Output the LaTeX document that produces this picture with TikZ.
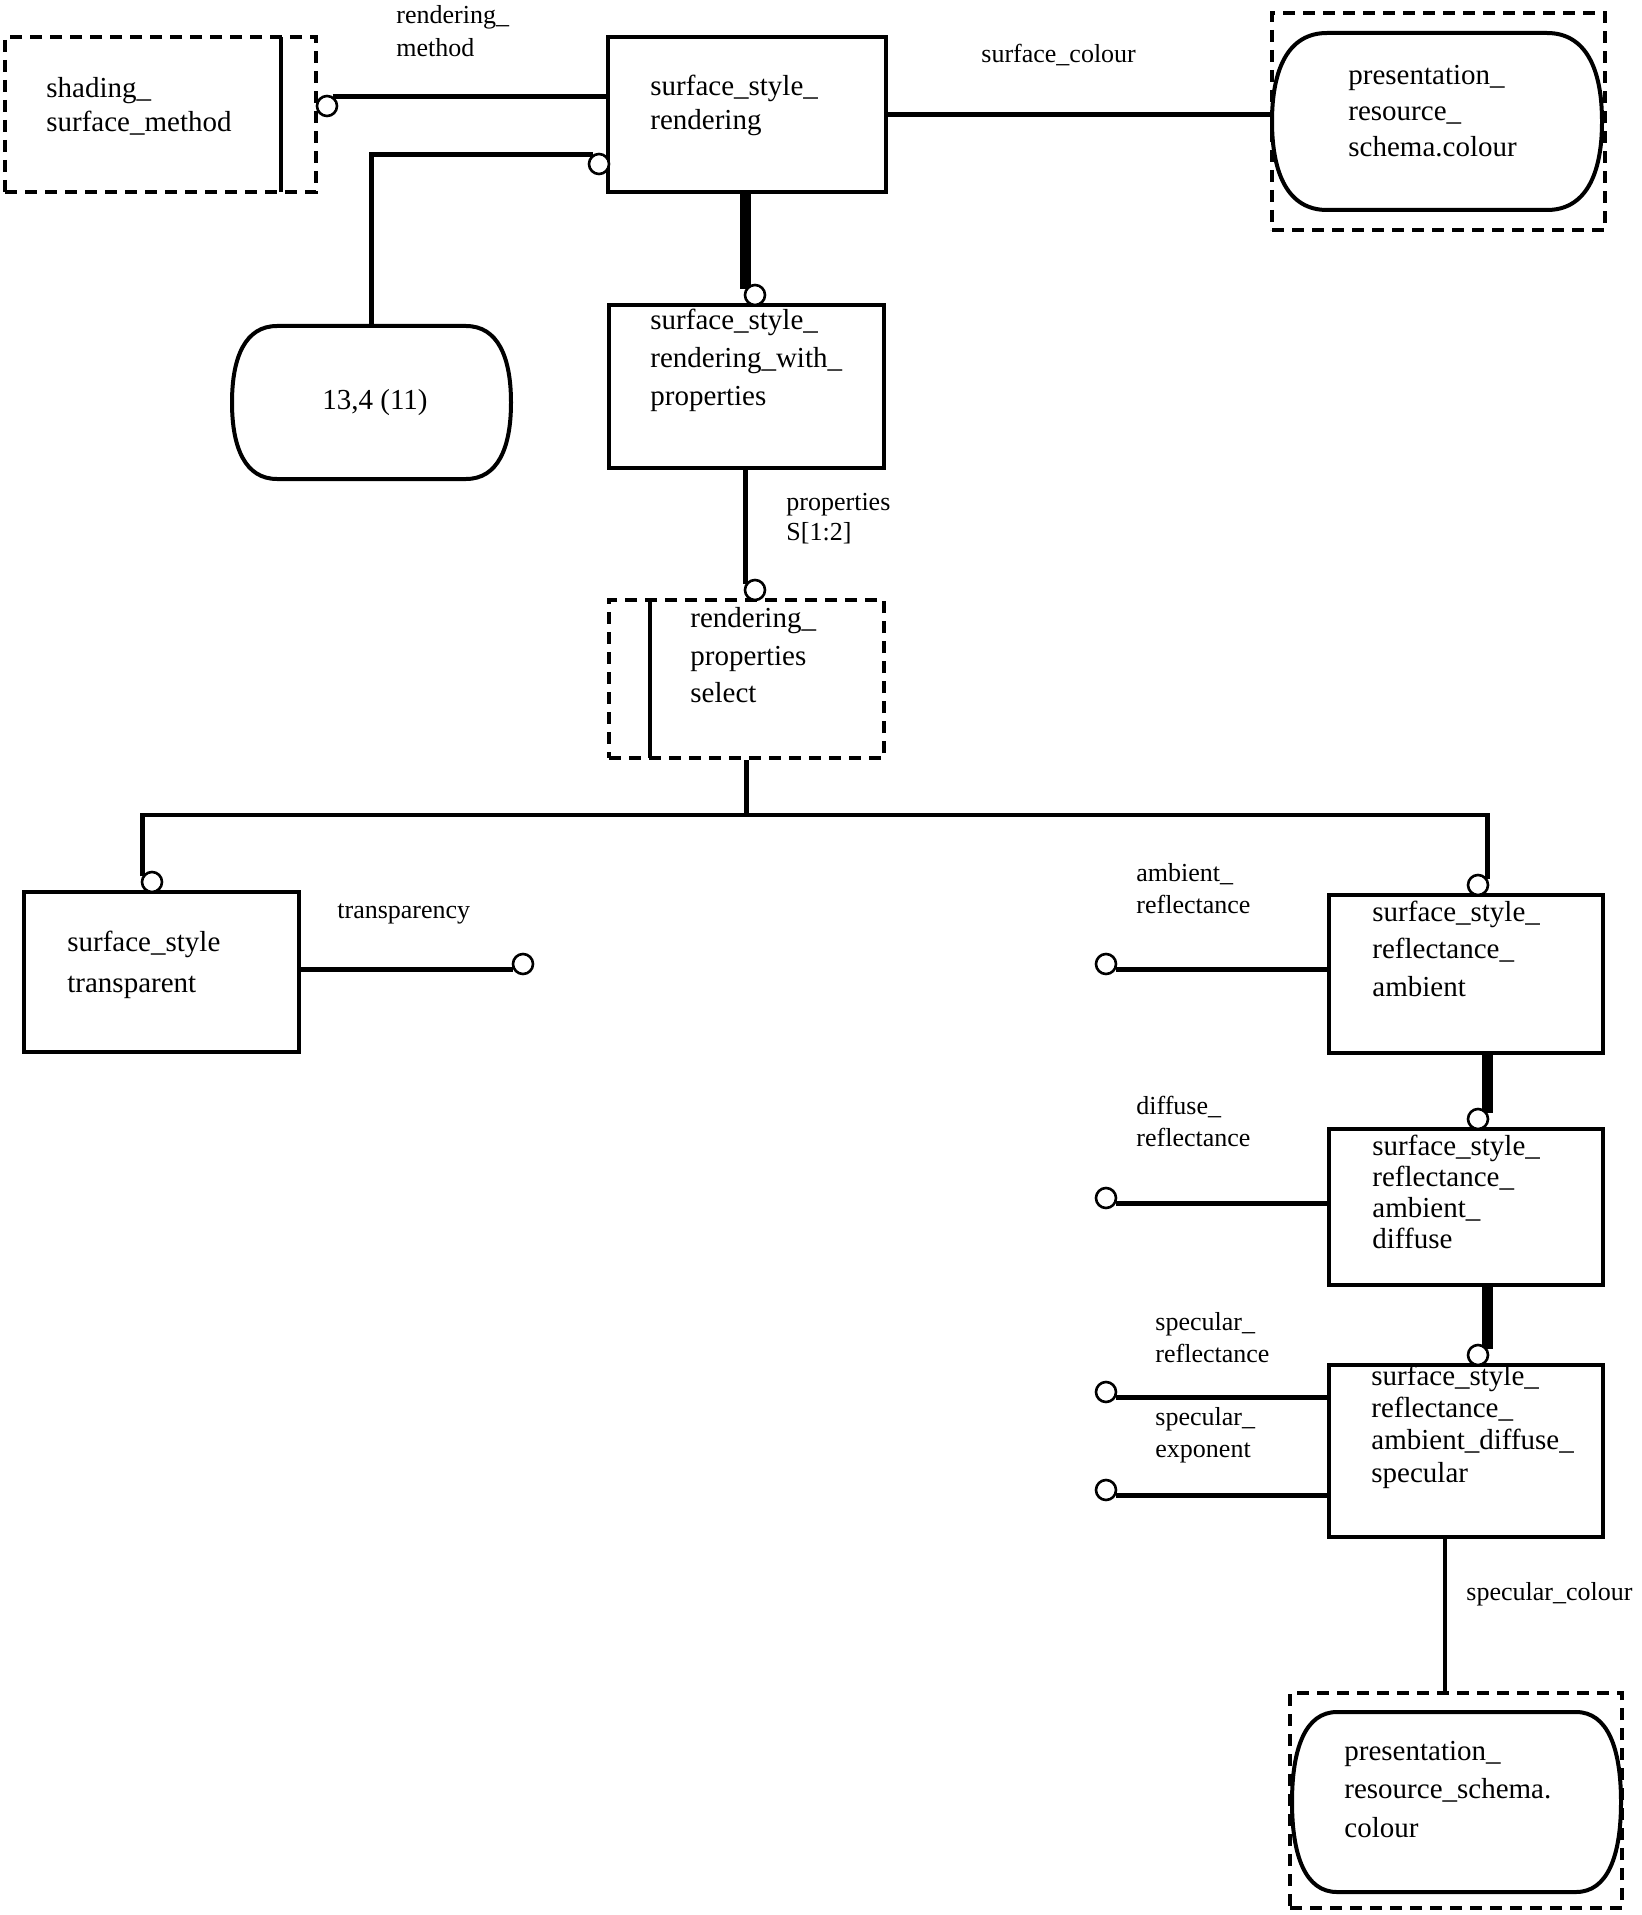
\documentclass[tikz,border=0pt]{standalone}
\usepackage{fontspec}
\setmainfont{Liberation Serif}
\usetikzlibrary{fit,backgrounds}
\newcommand\barrelshape[5]{%
 \draw[shapeline] ({#1+#5},#2) -- ({#3-#5},#2)
  .. controls ({#3-0.3*#5},#2) and (#3,{#2+0.2*(#4-#2)}) .. (#3,{0.5*(#2+#4)})
  .. controls (#3,{#4-0.2*(#4-#2)}) and ({#3-0.3*#5},#4) .. ({#3-#5},#4)
  -- ({#1+#5},#4)
  .. controls ({#1+0.3*#5},#4) and (#1,{#4-0.2*(#4-#2)}) .. (#1,{0.5*(#2+#4)})
  .. controls (#1,{#2+0.2*(#4-#2)}) and ({#1+0.3*#5},#2) .. cycle;}
\begin{document}
\begin{tikzpicture}[x=0.5pt,y=-0.5pt,
 box/.style={draw, line width=2pt, inner sep=0pt},
 dbox/.style={draw, line width=2pt, dash pattern=on 6pt off 4pt, inner sep=0pt},
 hid/.style={inner sep=0pt},
 shapeline/.style={line width=2pt},
 conn/.style={line width=2.4pt},
 sub/.style={line width=5.5pt},
 circ/.style={circle, draw, line width=1.3pt, fill=white, inner sep=0pt, minimum size=10pt},
 tx/.style={font=\fontsize{14.5}{#1}\selectfont, align=left, anchor=west, inner sep=0pt},
 tx/.default=17.5,
 lb/.style={font=\fontsize{13}{#1}\selectfont, align=left, anchor=west, inner sep=0pt},
 lb/.default=16]
\useasboundingbox (0,0) rectangle (1642,1915);

% shading_surface_method
\node[dbox, fit={(5,37) (316,192)}] (ssm) {};
\draw[shapeline] (281,37) -- (281,192);
\node[tx=17] (ssmt) at (46,106) {shading\_\\surface\_method};

% surface_style_rendering
\node[box, fit={(608,37) (886,192)}] (ssr) {};
\node[tx=17] (ssrt) at (650,105) {surface\_style\_\\rendering};

% presentation_resource_schema.colour (top)
\node[hid, fit={(1272,33) (1602,210)}] (pc1) {};
\barrelshape{1272}{33}{1602}{210}{55}
\node[dbox, fit={(1272,13) (1605,230)}] (pc1d) {};
\node[tx=18] (pc1t) at (1348,111) {presentation\_\\resource\_\\schema.colour};

% 13,4 (11)
\node[hid, fit={(232,326) (511,479)}] (n134) {};
\barrelshape{232}{326}{511}{479}{45}
\node[font=\fontsize{14.5}{17}\selectfont, inner sep=0pt] (n134t) at (375,403) {13,4 (11)};

% surface_style_rendering_with_properties
\node[box, fit={(609,305) (884,468)}] (ssrwp) {};
\node[tx=19] (ssrwpt) at (650,360) {surface\_style\_\\rendering\_with\_\\properties};

% rendering_properties_select
\node[dbox, fit={(609,600) (884,758)}] (rps) {};
\draw[shapeline] (650,600) -- (650,758);
\node[tx=18.75] (rpst) at (690,655.5) {rendering\_\\properties\\select};

% surface_style_transparent
\node[box, fit={(24,892) (299,1052)}] (sst) {};
\node[tx=20.5] (sstt) at (67,964.5) {surface\_style\\transparent};

% reflectance boxes
\node[box, fit={(1329,895) (1603,1053)}] (b1) {};
\node[tx=18.75] (b1t) at (1372,948.5) {surface\_style\_\\reflectance\_\\ambient};
\node[box, fit={(1329,1129) (1603,1285)}] (b2) {};
\node[tx=15.5] (b2t) at (1372,1191.5) {surface\_style\_\\reflectance\_\\ambient\_\\diffuse};
\node[box, fit={(1329,1365) (1603,1537)}] (b3) {};
\node[tx=16.2] (b3t) at (1371,1426.5) {surface\_style\_\\reflectance\_\\ambient\_diffuse\_\\specular};

% presentation_resource_schema.colour (bottom)
\node[hid, fit={(1292,1712) (1621,1892)}] (pc2) {};
\barrelshape{1292}{1712}{1621}{1892}{45}
\node[dbox, fit={(1290,1693) (1622,1908)}] (pc2d) {};
\node[tx=19.25] (pc2t) at (1344,1789.5) {presentation\_\\resource\_schema.\\colour};

% circles
\node[circ] (c1) at (327,106) {};
\node[circ] (c2) at (599,164) {};
\node[circ] (c3) at (755,295) {};
\node[circ] (c4) at (755,590) {};
\node[circ] (c5) at (152,882) {};
\node[circ] (c6) at (1478,885) {};
\node[circ] (c7) at (523,964) {};
\node[circ] (c8) at (1106,964) {};
\node[circ] (c9) at (1478,1119) {};
\node[circ] (c10) at (1106,1198) {};
\node[circ] (c11) at (1478,1355) {};
\node[circ] (c12) at (1106,1392) {};
\node[circ] (c13) at (1106,1490) {};

\coordinate (j) at (746.5,815);
\coordinate (xsc) at (1445,0);

\begin{scope}[on background layer]
\draw[conn] (c1.60) -- (c1.60 -| ssr.west);
\draw[conn] (c2.120) -- (c2.120 -| n134.north) -- (n134.north);
\draw[conn] (ssr.east) -- (ssr.east -| pc1.west);
\draw[sub] (c3.150 |- ssr.south) -- (c3.150);
\draw[conn] (c4.150 |- ssrwp.south) -- (c4.150);
\draw[conn] (rps.south) -- (j);
\draw[conn] (c5.150) -- (c5.150 |- j) -- (c6.30 |- j) -- (c6.30);
\draw[conn] (c7.210) -- (c7.210 -| sst.east);
\draw[conn] (c8.-30) -- (c8.-30 -| b1.west);
\draw[sub] (c9.30 |- b1.south) -- (c9.30);
\draw[conn] (c10.-30) -- (c10.-30 -| b2.west);
\draw[sub] (c11.30 |- b2.south) -- (c11.30);
\draw[conn] (c12.-30) -- (c12.-30 -| b3.west);
\draw[conn] (c13.-30) -- (c13.-30 -| b3.west);
\draw[conn] (xsc |- b3.south) -- (xsc |- pc2d.north);
\end{scope}

% labels
\node[lb=16.5] (l1) at (396,31.5) {rendering\_\\method};
\node[lb] (l2) at (981,55) {surface\_colour};
\node[lb=15] (l3) at (786,519) {properties\\S[1:2]};
\node[lb] (l4) at (337,914) {transparency};
\node[lb] (l5) at (1136,889) {ambient\_\\reflectance};
\node[lb] (l6) at (1136,1121.5) {diffuse\_\\reflectance};
\node[lb] (l7) at (1155,1337.5) {specular\_\\reflectance};
\node[lb] (l8) at (1155,1435.5) {specular\_\\exponent};
\node[lb] (l9) at (1466,1594) {specular\_colour};
\end{tikzpicture}
\end{document}
